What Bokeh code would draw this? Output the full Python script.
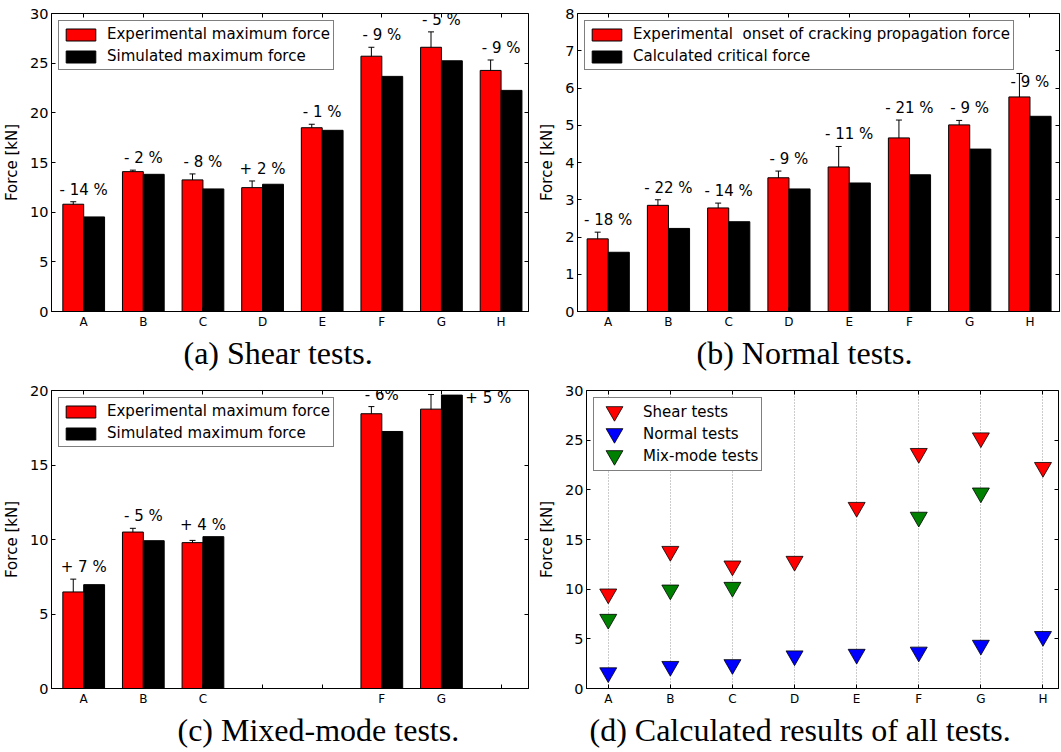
import numpy as np
from bokeh.plotting import figure
from bokeh.models import (ColumnDataSource, FixedTicker, LinearAxis, Range1d, Legend,
                          LegendItem, Whisker, TeeHead, Title)
from bokeh.layouts import row, column
from bokeh.core.properties import value
from bokeh.embed import file_html
from bokeh.resources import INLINE

# ---------------------------------------------------------------- data
specimens = ["A", "B", "C", "D", "E", "F", "G", "H"]

# (a) shear tests
shear_exp = [10.8, 14.08, 13.25, 12.47, 18.5, 25.7, 26.6, 24.27]
shear_exp_err = [0.25, 0.15, 0.6, 0.67, 0.35, 0.9, 1.55, 1.05]
shear_sim = [9.52, 13.81, 12.34, 12.81, 18.24, 23.67, 25.24, 22.26]
shear_pct = ["- 14 %", "- 2 %", "- 8 %", "+ 2 %", "- 1 %", "- 9 %", "- 5 %", "- 9 %"]

# (b) normal tests
normal_exp = [1.95, 2.85, 2.78, 3.59, 3.88, 4.66, 5.01, 5.76]
normal_exp_err = [0.18, 0.15, 0.13, 0.18, 0.55, 0.48, 0.12, 0.63]
normal_calc = [1.59, 2.23, 2.41, 3.29, 3.45, 3.67, 4.36, 5.24]
normal_pct = ["- 18 %", "- 22 %", "- 14 %", "- 9 %", "- 11 %", "- 21 %", "- 9 %", "- 9 %"]

# (c) mixed-mode tests (only A, B, C, F, G were run)
mixed_specimens = ["A", "B", "C", "F", "G"]
mixed_exp = [6.48, 10.5, 9.79, 18.44, 18.75]
mixed_exp_err = [0.86, 0.25, 0.15, 0.48, 0.98]
mixed_sim = [6.97, 9.92, 10.19, 17.25, 19.69]
mixed_pct = ["+ 7 %", "- 5 %", "+ 4 %", "- 6%", "+ 5 %"]

# ---------------------------------------------------------------- style
SANS = "DejaVu Sans"
SERIF = "Liberation Serif"
BAR_W = 0.35
RED, BLUE, GREEN = "#ff0000", "#0000ff", "#008000"


def make_panel(width, height, borders, xr, yr, yticks, xticks, xlabels):
    left, right, top, bottom = borders
    p = figure(width=width, height=height, x_range=Range1d(*xr), y_range=Range1d(*yr),
               output_backend="svg", toolbar_location=None,
               min_border_left=left, min_border_right=right,
               min_border_top=top, min_border_bottom=bottom)
    p.xgrid.visible = False
    p.ygrid.visible = False
    p.outline_line_color = "black"
    p.outline_line_width = 1
    p.background_fill_color = "white"
    p.border_fill_color = "white"

    xa, ya = p.xaxis[0], p.yaxis[0]
    xa.ticker = FixedTicker(ticks=list(xticks))
    xa.major_label_overrides = {float(t): lab for t, lab in zip(xticks, xlabels)}
    ya.ticker = FixedTicker(ticks=list(yticks))
    for ax, fs in ((xa, "12px"), (ya, "14.5px")):
        ax.major_tick_in = 4
        ax.major_tick_out = 0
        ax.minor_tick_in = 0
        ax.minor_tick_out = 0
        ax.axis_line_color = "black"
        ax.major_tick_line_color = "black"
        ax.major_label_text_font = SANS
        ax.major_label_text_font_size = fs
        ax.major_label_text_color = "black"
        ax.major_label_standoff = 3
    ya.axis_label = "Force [kN]"
    ya.axis_label_text_font = SANS
    ya.axis_label_text_font_size = "15px"
    ya.axis_label_text_font_style = "normal"
    ya.axis_label_text_color = "black"
    ya.axis_label_standoff = 6

    # mirrored inward ticks on the top and right edges
    for loc, ticks in (("above", xticks), ("right", yticks)):
        mirror = LinearAxis(ticker=FixedTicker(ticks=list(ticks)),
                            major_label_overrides={float(t): "" for t in ticks},
                            major_label_text_font_size="0px", major_label_standoff=0,
                            major_tick_in=4, major_tick_out=0,
                            minor_tick_in=0, minor_tick_out=0,
                            axis_line_color=None, major_tick_line_color="black")
        p.add_layout(mirror, loc)
    return p


def add_caption(p, text, offset):
    cap = Title(text=text, align="left", offset=offset, text_font=SERIF,
                text_font_size="32px", text_font_style="normal", text_color="black",
                standoff=2)
    p.add_layout(cap, "below")


def bar_panel(p, pos, exp, err, sim, pct, labels, ytop_cap=None, side_label=None):
    pos = np.asarray(pos, dtype=float)
    exp = np.asarray(exp, dtype=float)
    err = np.asarray(err, dtype=float)
    sim = np.asarray(sim, dtype=float)
    src = ColumnDataSource(dict(xe=pos + BAR_W / 2, xs=pos + 1.5 * BAR_W,
                                exp=exp, sim=sim, lo=exp - err, hi=exp + err))
    r_exp = p.vbar(x="xe", top="exp", width=BAR_W, source=src, fill_color=RED,
                   line_color="black", line_width=1)
    r_sim = p.vbar(x="xs", top="sim", width=BAR_W, source=src, fill_color="black",
                   line_color="black", line_width=1)
    wh = Whisker(source=src, base="xe", lower="lo", upper="hi", line_color="black",
                 line_width=1,
                 upper_head=TeeHead(size=6, line_color="black", line_width=1),
                 lower_head=TeeHead(size=6, line_color="black", line_width=1))
    p.add_layout(wh)

    # percentage labels above each pair of bars
    top = np.maximum(exp + err, sim)
    if ytop_cap is not None:
        top = np.minimum(top, ytop_cap)
    centred = np.ones(len(pos), dtype=bool)
    if side_label is not None:
        centred[side_label] = False
    c_src = ColumnDataSource(dict(x=(pos + BAR_W)[centred], y=top[centred],
                                  t=[s for s, c in zip(pct, centred) if c]))
    p.text(x="x", y="y", text="t", source=c_src, text_align="center",
           text_baseline="bottom", y_offset=-3, text_font=value(SANS),
           text_font_size="15px", text_color="black")
    if side_label is not None:
        s_src = ColumnDataSource(dict(x=[pos[side_label] + 2 * BAR_W], y=[exp[side_label]],
                                      t=[pct[side_label]]))
        p.text(x="x", y="y", text="t", source=s_src, text_align="left",
               text_baseline="bottom", x_offset=3, y_offset=-2, text_font=value(SANS),
               text_font_size="15px", text_color="black")

    leg = Legend(items=[LegendItem(label=labels[0], renderers=[r_exp]),
                        LegendItem(label=labels[1], renderers=[r_sim])],
                 location="top_left", margin=7, padding=3, spacing=2,
                 glyph_width=37, glyph_height=15, label_height=20, label_standoff=8,
                 label_text_font=SANS, label_text_font_size="15px",
                 label_text_color="black", border_line_color="black",
                 border_line_width=1, background_fill_alpha=1.0)
    p.add_layout(leg)


idx = np.arange(len(specimens), dtype=float)
tick_pos = idx + BAR_W

# ---------------------------------------------------------------- (a)
pa = make_panel(535, 375, (46, 7, 13, 64), (-0.19, 7.81), (0, 30),
                range(0, 31, 5), tick_pos, specimens)
bar_panel(pa, idx, shear_exp, shear_exp_err, shear_sim, shear_pct,
          ["Experimental maximum force", "Simulated maximum force"])
add_caption(pa, "(a) Shear tests.", 132)

# ---------------------------------------------------------------- (b)
pb = make_panel(526, 375, (35, 2, 10, 61), (-0.16, 7.84), (0, 8),
                range(0, 9), tick_pos, specimens)
bar_panel(pb, idx, normal_exp, normal_exp_err, normal_calc, normal_pct,
          ["Experimental\u00a0 onset of cracking propagation force", "Calculated critical force"],
          ytop_cap=5.85)
add_caption(pb, "(b) Normal tests.", 119)

# ---------------------------------------------------------------- (c)
mixed_idx = np.array([specimens.index(s) for s in mixed_specimens], dtype=float)
mixed_ticklabels = [s if s in mixed_specimens else "" for s in specimens]
pc = make_panel(535, 377, (46, 7, 15, 64), (-0.19, 7.81), (0, 20),
                range(0, 21, 5), tick_pos, mixed_ticklabels)
bar_panel(pc, mixed_idx, mixed_exp, mixed_exp_err, mixed_sim, mixed_pct,
          ["Experimental maximum force", "Simulated maximum force"], side_label=4)
add_caption(pc, "(c) Mixed-mode tests.", 126)

# ---------------------------------------------------------------- (d)
D_BORDERS = (49, 3, 15, 64)
D_HEIGHT = 377
pd_ = make_panel(526, D_HEIGHT, D_BORDERS, (0, 7.6), (0, 30),
                 range(0, 31, 5), tick_pos, specimens)
pd_.xgrid.visible = True
pd_.xgrid.ticker = FixedTicker(ticks=list(tick_pos))
pd_.xgrid.grid_line_color = "#999999"
pd_.xgrid.grid_line_dash = "1 2"
pd_.xgrid.grid_line_width = 1

series = [("Shear tests", idx + BAR_W, shear_sim, RED),
          ("Normal tests", idx + BAR_W, normal_calc, BLUE),
          ("Mix-mode tests", mixed_idx + BAR_W, mixed_sim, GREEN)]
marker_renderers, key_items = [], []
for name, xs, ys, col in series:
    r = pd_.scatter(x=list(xs), y=list(ys), marker="inverted_triangle", size=17,
                    fill_color=col, line_color="black", line_width=0.8)
    marker_renderers.append(r)
    # empty, fully transparent stand-in: the framed key only shows the label text
    blank = pd_.scatter(x=[], y=[], marker="inverted_triangle", fill_alpha=0, line_alpha=0)
    key_items.append(LegendItem(label=name, renderers=[blank]))

ROW = 22
leg_d = Legend(items=key_items, location="top_left", margin=7, padding=3, spacing=0,
               glyph_width=36, glyph_height=ROW, label_height=ROW, label_standoff=10,
               label_text_font=SANS, label_text_font_size="15px", label_text_color="black",
               border_line_color="black", border_line_width=1, background_fill_alpha=1.0)
pd_.add_layout(leg_d)

# full-size marker keys laid over the framed key, one row each
frame_h = D_HEIGHT - D_BORDERS[2] - D_BORDERS[3]
KEY = 42
for i, r in enumerate(marker_renderers):
    key = Legend(items=[LegendItem(label=" ", renderers=[r])],
                 location=(7 + 3 + 18 - KEY // 2, frame_h - 7 - 3 - ROW // 2 - KEY // 2 - ROW * i),
                 margin=0, padding=0, spacing=0, glyph_width=KEY, glyph_height=KEY,
                 label_width=1, label_standoff=0, label_text_font_size="1px",
                 border_line_color=None, background_fill_alpha=0.0)
    pd_.add_layout(key)

add_caption(pd_, "(d) Calculated results of all tests.", 3)

layout = column(row(pa, pb), row(pc, pd_))
open("out.html", "w").write(file_html(layout, INLINE))
